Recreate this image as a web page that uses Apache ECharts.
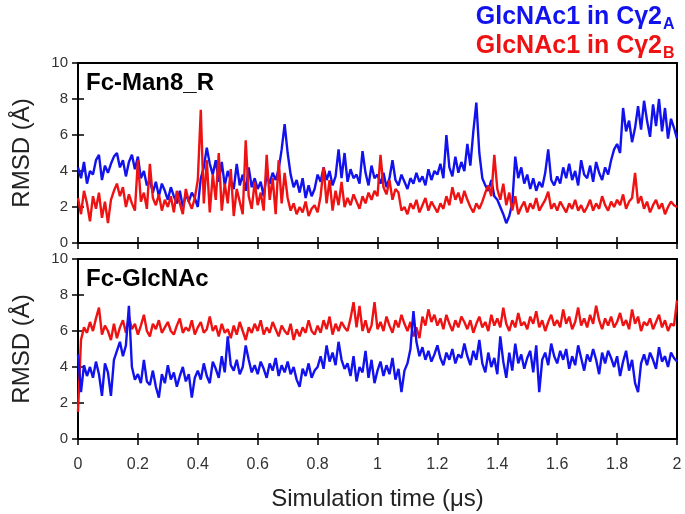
<!DOCTYPE html>
<html><head><meta charset="utf-8">
<script src="https://cdn.jsdelivr.net/npm/echarts@6/dist/echarts.min.js"></script>
<style>html,body{margin:0;padding:0;background:#fff}#c{width:685px;height:514px}</style>
</head><body><div id="c"></div>
<script>
// sampling step of the trajectories (µs)
const timeStep = 0.01;
// Fc-Man8_R panel
const man8_A = [
4.2,3.6,4.5,3.3,4.0,3.8,4.6,4.9,3.5,4.3,
3.9,4.4,4.8,5.0,4.2,4.6,3.7,4.5,4.9,4.1,
4.8,3.6,4.0,3.2,3.5,2.8,3.4,2.6,3.3,2.9,
2.4,3.1,2.6,2.2,2.9,2.0,2.7,2.3,2.8,2.5,
2.0,3.6,4.2,5.3,4.4,3.8,4.6,3.4,4.5,3.2,
4.0,3.5,3.0,4.4,3.2,3.8,2.9,4.2,3.1,3.6,
3.0,3.4,2.6,3.8,3.3,3.9,3.5,4.1,5.2,6.6,
5.0,3.8,3.1,3.5,2.8,3.6,2.5,3.2,2.6,3.0,
3.8,3.4,4.2,3.5,4.0,3.2,3.7,5.2,3.6,5.0,
3.4,4.1,3.6,3.8,3.3,5.1,3.9,3.2,4.3,3.6,
3.8,3.3,3.9,3.1,3.6,4.6,3.5,3.2,3.8,3.4,
3.0,3.6,3.3,3.9,3.4,3.7,3.2,4.1,3.5,4.0,
3.8,4.4,3.6,6.0,4.2,3.7,4.8,3.9,4.5,4.0,
5.5,4.3,6.2,7.8,5.0,3.6,3.2,2.9,3.5,2.6,
2.4,2.0,1.6,1.1,1.5,2.2,4.8,3.6,4.2,3.3,
3.8,3.0,3.6,2.9,3.4,3.1,3.9,5.2,3.5,3.2,
3.7,3.3,4.2,3.6,4.4,3.5,4.0,3.2,4.6,3.8,
3.6,4.3,3.4,4.5,3.9,3.5,4.2,3.8,4.6,5.2,
5.5,5.0,7.5,6.2,6.8,5.6,6.4,7.6,6.3,7.9,
6.8,5.9,7.7,6.5,8.0,6.2,7.5,5.8,6.9,6.4,
5.8];
const man8_B = [
2.5,1.6,2.9,2.2,1.2,2.6,1.9,2.8,1.4,2.3,
1.1,2.4,2.9,3.3,2.6,3.1,2.0,2.7,2.2,1.8,
4.6,2.3,2.8,1.9,4.4,2.5,2.1,2.7,1.8,2.4,
2.0,2.6,1.7,2.9,2.2,1.6,3.0,2.3,1.9,2.5,
3.5,7.4,2.2,4.6,1.7,3.8,2.4,5.0,1.8,3.3,
2.2,4.1,1.5,3.0,2.3,1.6,5.7,2.6,1.9,3.4,
2.1,2.8,1.8,4.9,2.4,3.6,1.6,4.6,2.2,3.9,
2.5,1.8,2.2,1.6,2.0,1.7,2.3,1.5,1.9,2.1,
1.7,2.6,4.2,2.2,3.5,1.8,2.9,2.1,3.4,2.0,
2.5,2.1,2.7,2.3,1.9,2.6,2.2,2.8,2.4,2.9,
2.6,4.9,3.1,2.7,3.5,2.4,3.0,2.8,1.8,2.0,
1.6,2.2,1.9,2.4,1.7,2.1,2.5,1.8,2.3,2.0,
1.7,2.2,1.9,2.6,2.1,3.1,2.4,2.8,2.2,2.9,
2.4,2.0,1.7,2.2,1.9,2.3,2.8,3.2,2.6,4.9,
3.0,2.4,3.3,2.1,2.8,1.8,2.6,1.6,2.0,2.3,
1.7,2.2,1.9,2.5,1.8,2.1,2.4,2.85,1.9,2.2,
1.8,2.3,2.0,1.7,2.2,1.9,2.4,1.8,2.1,1.7,
2.0,2.4,1.8,2.2,1.9,2.6,2.1,1.8,2.3,2.0,
2.4,2.1,2.7,1.9,2.3,2.5,3.9,2.2,2.6,1.9,
2.3,1.7,2.1,2.4,1.9,2.2,1.6,2.0,2.3,2.1,
2.0];
// Fc-GlcNAc panel
const glc_A = [
4.7,2.6,4.1,3.5,4.0,3.4,4.3,3.6,2.4,4.2,
3.7,2.4,4.4,4.9,5.4,4.6,5.2,7.4,4.0,3.3,
3.6,3.1,4.4,3.2,3.0,3.8,2.9,2.3,3.6,3.1,
4.1,3.3,3.7,2.9,3.5,4.0,3.2,3.6,2.3,3.4,
3.8,3.3,4.2,3.5,3.1,4.3,3.9,3.4,4.6,3.7,
5.7,4.1,3.8,4.4,3.6,4.0,5.2,4.4,3.7,4.1,
3.6,4.3,3.9,3.4,4.2,3.8,4.5,3.5,4.1,3.7,
4.3,3.6,4.0,3.3,2.9,3.9,3.5,4.2,3.4,3.8,
4.0,4.6,3.9,5.2,4.3,4.8,4.1,5.4,4.4,3.9,
4.2,3.5,4.6,3.2,4.0,3.7,4.9,3.4,4.4,3.1,
3.8,4.3,3.5,4.1,3.6,4.5,3.3,3.9,2.6,3.8,
4.2,5.0,7.1,5.4,4.6,5.1,4.4,4.9,4.3,4.7,
5.2,4.5,4.1,4.8,4.4,5.0,4.2,4.7,4.5,5.3,
4.6,4.1,4.9,4.4,5.5,4.2,3.7,4.8,4.0,4.5,
3.6,5.7,4.3,3.4,4.8,3.8,5.3,4.2,4.7,3.9,
4.5,4.9,3.7,5.2,2.6,4.4,4.8,4.1,5.3,4.6,
4.2,4.9,4.4,5.0,3.9,4.6,4.1,5.2,4.5,3.8,
4.7,4.3,5.0,4.4,3.6,4.8,4.2,4.9,4.5,4.0,
4.6,3.5,4.3,4.9,3.8,4.4,3.1,2.6,4.2,4.7,
4.1,4.8,4.4,3.9,5.1,4.3,4.6,4.0,4.8,4.5,
4.3];
const glc_B = [
1.5,5.5,6.2,5.9,6.5,6.0,6.7,7.3,5.8,6.3,
6.0,5.5,6.4,5.6,6.2,6.6,5.9,6.8,6.1,6.4,
5.8,6.3,6.9,6.0,5.7,6.4,6.1,6.6,5.9,6.2,
6.5,6.0,5.8,6.3,6.7,5.9,6.2,6.0,6.6,5.8,
6.2,6.5,5.9,6.1,6.8,6.0,6.3,5.7,6.4,5.9,
6.1,5.6,6.3,5.8,6.5,6.0,5.5,6.2,5.9,6.4,
6.0,6.6,5.8,6.2,5.9,6.5,6.1,5.7,6.3,6.0,
5.8,6.4,5.5,6.1,5.7,6.2,5.9,6.6,6.0,5.8,
6.3,5.9,6.6,6.1,6.8,5.8,6.4,6.0,6.5,6.2,
6.0,6.7,7.6,6.2,7.4,6.0,6.6,5.9,6.3,7.6,
6.1,6.5,6.0,6.8,6.3,5.9,6.6,6.2,6.9,6.4,
6.0,6.5,5.7,6.2,5.6,6.8,6.3,7.2,6.5,6.9,
6.3,6.7,6.1,6.9,6.4,6.0,6.6,6.2,6.8,6.5,
6.1,6.6,5.9,6.4,6.8,6.2,6.5,6.0,6.9,6.3,
6.7,6.2,7.3,6.4,6.0,6.6,6.2,7.0,6.3,6.5,
6.1,6.8,6.4,7.1,6.2,6.6,6.0,6.5,6.9,6.3,
6.6,6.2,7.2,6.4,6.8,6.1,6.5,7.3,6.3,6.7,
6.2,6.9,6.4,7.4,6.6,6.1,6.7,6.3,6.8,6.2,
6.5,7.0,6.3,6.6,6.1,7.2,6.4,6.8,6.0,6.5,
6.3,6.7,6.1,6.5,6.9,6.2,6.6,6.0,6.4,6.3,
7.7];
const xTicks = [0,0.2,0.4,0.6,0.8,1,1.2,1.4,1.6,1.8,2];
const yTicks = [0,2,4,6,8,10];
const panelTitles = ['Fc-Man8_R','Fc-GlcNAc'];
const legendNames = ['GlcNAc1 in C\u03B32', 'GlcNAc1 in C\u03B32'];
const legendSubs = ['A','B'];

const BLUE = '#1212ee', RED = '#ee1212';
const FONT = 'Liberation Sans, Arial, sans-serif';
const pairs = arr => arr.map((v,i)=>[+(i*timeStep).toFixed(2), v]);

const grids = [
  {left:78, right:8, top:63, height:180, show:true, borderColor:'#000', borderWidth:2, backgroundColor:'transparent'},
  {left:78, right:8, top:259, height:180, show:true, borderColor:'#000', borderWidth:2, backgroundColor:'transparent'}
];
const tickStyle = {inside:true, length:6, lineStyle:{color:'#000', width:1.5}};
function xAx(g, pos, labels){
  return {gridIndex:g, type:'value', min:0, max:2, interval:0.2, position:pos,
    axisLine:{show:false}, axisTick:tickStyle, splitLine:{show:false},
    axisLabel:{show:labels, color:'#333', fontSize:16, fontFamily:FONT, margin:18,
      formatter:v=>String(+v.toFixed(1))},
    name: labels ? 'Simulation time (\u03BCs)' : '', nameLocation:'middle', nameGap:48,
    nameTextStyle:{fontSize:24, color:'#222', fontFamily:FONT}};
}
function yAx(g, pos, labels){
  return {gridIndex:g, type:'value', min:0, max:10, interval:2, position:pos,
    axisLine:{show:false}, axisTick:tickStyle, splitLine:{show:false},
    axisLabel:{show:labels, color:'#333', fontSize:15, fontFamily:FONT, margin:10},
    name: labels ? 'RMSD (\u00C5)' : '', nameLocation:'middle', nameGap:44, nameRotate:90,
    nameTextStyle:{fontSize:24, color:'#222', fontFamily:FONT}};
}
const lineS = (name, data, xi, yi, color, z) => ({name, type:'line', xAxisIndex:xi, yAxisIndex:yi,
  data:pairs(data), showSymbol:false, symbol:'none', z, animation:false,
  lineStyle:{color, width:2.4}, itemStyle:{color}});

const chart = echarts.init(document.getElementById('c'));
chart.setOption({
  backgroundColor:'#fff',
  animation:false,
  grid:grids,
  xAxis:[xAx(0,'bottom',false), xAx(0,'top',false), xAx(1,'bottom',true), xAx(1,'top',false)],
  yAxis:[yAx(0,'left',true), yAx(0,'right',false), yAx(1,'left',true), yAx(1,'right',false)],
  series:[
    lineS('Man8 A', man8_A, 0, 0, BLUE, 2),
    lineS('Man8 B', man8_B, 0, 0, RED, 3),
    lineS('GlcNAc B', glc_B, 2, 2, RED, 2),
    lineS('GlcNAc A', glc_A, 2, 2, BLUE, 3)
  ],
  graphic:[
    {type:'text', left:86, top:71, z:10, style:{text:panelTitles[0], font:'bold 24px '+FONT, fill:'#000'}},
    {type:'text', left:86, top:267, z:10, style:{text:panelTitles[1], font:'bold 24px '+FONT, fill:'#000'}},
    {type:'text', x:662, y:17, z:10, style:{text:legendNames[0], font:'bold 25px '+FONT, fill:BLUE, align:'right', verticalAlign:'middle'}},
    {type:'text', x:663, y:25, z:10, style:{text:legendSubs[0], font:'bold 16px '+FONT, fill:BLUE, align:'left', verticalAlign:'middle'}},
    {type:'text', x:662, y:46, z:10, style:{text:legendNames[1], font:'bold 25px '+FONT, fill:RED, align:'right', verticalAlign:'middle'}},
    {type:'text', x:663, y:54, z:10, style:{text:legendSubs[1], font:'bold 16px '+FONT, fill:RED, align:'left', verticalAlign:'middle'}}
  ]
});
</script></body></html>
